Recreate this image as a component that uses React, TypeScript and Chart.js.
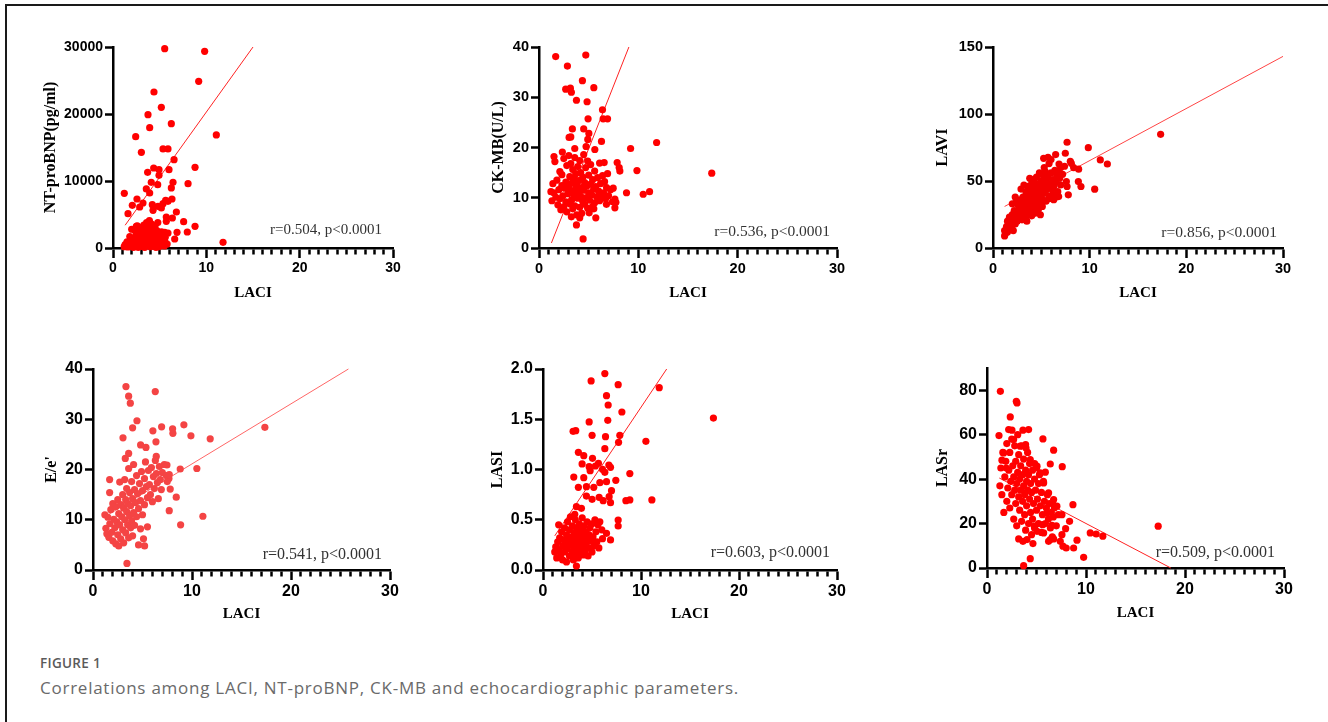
import React, { useEffect, useRef } from "react";
import { Chart, registerables } from "chart.js";

Chart.register(...registerables);

type Pt = [number, number];

// ---------- shared axis data ----------
const xTicks = [0, 10, 20, 30];
const xMinorTicks = [1, 2, 3, 4, 5, 6, 7, 8, 9, 11, 12, 13, 14, 15, 16, 17, 18, 19, 21, 22, 23, 24, 25, 26, 27, 28, 29];
const xTitle = "LACI";

// ---------- Panel A: NT-proBNP ----------
const ntTicks = [0, 10000, 20000, 30000];
const ntStat = "r=0.504, p<0.0001";
const ntFit: Pt[] = [[1.3, 3400], [15.0, 30000]];
const ntPoints: Pt[] = [
  [5.54, 29750], [9.82, 29350], [9.18, 24880], [4.39, 23280], [5.18, 21000], [3.75, 19900], [6.25, 18560], [3.93, 17960],
  [2.43, 16620], [11.07, 16870], [3.04, 14280], [5.36, 14780], [5.89, 14780], [6.54, 13180], [8.79, 12040], [4.36, 11940],
  [3.71, 11290], [4.93, 11690], [6.0, 11690], [4.93, 10850], [6.43, 9800], [4.1, 9800], [4.79, 9450], [8.04, 9600],
  [3.57, 8810], [6.25, 8960], [1.21, 8160], [2.57, 7310], [3.93, 8210], [6.32, 7310], [5.64, 7110], [3.21, 6720],
  [2.07, 6370], [2.86, 6120], [4.21, 6470], [4.82, 6220], [5.36, 6620], [5.18, 5970], [4.29, 5620], [5.89, 6970],
  [6.79, 5370], [1.61, 5120], [5.71, 4630], [6.36, 4480], [5.71, 3980], [7.57, 3930], [2.5, 3230], [8.79, 3230],
  [2.32, 2640], [5.54, 2340], [5.89, 2240], [6.86, 2340], [7.96, 2390], [6.61, 1340], [11.79, 850],
  [1.2, 200], [1.3, 500], [1.5, 900], [1.6, 150], [1.8, 1700], [1.9, 400], [2.0, 1000], [2.1, 200], [2.2, 650],
  [2.3, 1400], [2.4, 300], [2.5, 2000], [2.6, 800], [2.7, 100], [2.7, 1200], [2.8, 2600], [2.9, 500], [3.0, 1700],
  [3.0, 900], [3.1, 3100], [3.1, 250], [3.2, 2200], [3.2, 1300], [3.3, 600], [3.3, 3400], [3.4, 1800], [3.4, 100],
  [3.5, 2700], [3.5, 1000], [3.6, 3800], [3.6, 400], [3.7, 2100], [3.7, 1400], [3.8, 700], [3.8, 3200], [3.9, 4100],
  [3.9, 1800], [4.0, 200], [4.0, 2500], [4.1, 1100], [4.1, 3600], [4.2, 600], [4.2, 1900], [4.3, 2900], [4.3, 1300],
  [4.4, 300], [4.4, 2300], [4.5, 800], [4.5, 3300], [4.6, 1600], [4.7, 500], [4.7, 2600], [4.8, 1200], [4.9, 200],
  [4.9, 2000], [5.0, 900], [5.1, 1500], [5.1, 400], [5.2, 2400], [5.3, 700], [5.4, 1100], [5.5, 300], [5.6, 1600],
  [5.8, 600], [2.0, 2800], [2.6, 3300], [4.8, 3800], [2.2, 100], [2.9, 1500], [3.3, 200], [3.6, 1200], [4.0, 800],
  [4.4, 1500], [4.6, 100], [5.0, 350], [5.3, 1800], [5.6, 800], [3.0, 2300], [3.8, 2700], [4.2, 3000],
];

// ---------- Panel B: CK-MB ----------
const ckTicks = [0, 10, 20, 30, 40];
const ckStat = "r=0.536, p<0.0001";
const ckFit: Pt[] = [[1.25, 1.0], [9.05, 40]];
const ckPoints: Pt[] = [
  [1.68, 38.1], [4.71, 38.4], [2.86, 36.2], [4.37, 33.3], [2.69, 31.6], [3.16, 31.8], [3.26, 31.0], [5.52, 31.9],
  [3.77, 29.4], [4.84, 29.1], [6.39, 27.5], [6.46, 25.7], [6.9, 25.7], [4.94, 25.7], [3.36, 23.7], [4.5, 23.7],
  [5.02, 22.8], [3.03, 22.0], [3.2, 22.1], [4.91, 21.6], [6.29, 21.2], [11.84, 21.0], [4.74, 20.2], [9.22, 19.8],
  [3.6, 19.8], [5.62, 19.6], [2.35, 19.1], [1.51, 18.2], [7.87, 17.0], [6.56, 17.0], [8.07, 16.0], [8.14, 15.3],
  [9.86, 15.4], [17.39, 14.9], [7.47, 11.9], [8.81, 11.0], [10.49, 10.7], [11.13, 11.2], [7.64, 9.75], [7.74, 9.1],
  [7.64, 8.0], [6.79, 8.7], [5.72, 6.0], [5.52, 7.8], [5.05, 7.0], [3.77, 4.6], [4.44, 1.8], [3.26, 6.2], [4.1, 6.0],
  [1.2, 11.2], [1.3, 9.4], [1.4, 12.8], [1.5, 11.0], [1.6, 17.2], [1.7, 10.1], [1.8, 13.5], [1.9, 8.6], [2.0, 11.6],
  [2.1, 15.2], [2.1, 9.8], [2.2, 7.6], [2.3, 12.4], [2.3, 14.6], [2.4, 10.4], [2.5, 8.2], [2.5, 17.8], [2.6, 11.9],
  [2.7, 13.1], [2.7, 9.2], [2.8, 16.4], [2.8, 7.2], [2.9, 10.8], [3.0, 12.2], [3.0, 18.4], [3.1, 8.8], [3.1, 14.2],
  [3.2, 11.4], [3.2, 16.8], [3.3, 9.6], [3.3, 12.9], [3.4, 7.8], [3.4, 15.6], [3.5, 10.6], [3.5, 13.8], [3.6, 18.0],
  [3.6, 8.4], [3.7, 11.8], [3.7, 14.8], [3.8, 6.6], [3.8, 12.6], [3.9, 9.9], [3.9, 16.2], [4.0, 11.1], [4.0, 13.4],
  [4.1, 8.1], [4.1, 17.4], [4.2, 10.3], [4.2, 15.0], [4.3, 12.0], [4.3, 6.9], [4.4, 9.3], [4.4, 14.1], [4.5, 11.5],
  [4.5, 18.6], [4.6, 8.7], [4.6, 13.0], [4.7, 16.0], [4.7, 10.0], [4.8, 12.3], [4.9, 7.9], [4.9, 17.3], [5.0, 11.0],
  [5.0, 14.5], [5.1, 9.5], [5.2, 12.7], [5.2, 16.6], [5.3, 10.6], [5.4, 13.6], [5.4, 8.3], [5.5, 11.7], [5.6, 15.3],
  [5.6, 9.0], [5.7, 12.2], [5.8, 10.2], [5.9, 14.0], [6.0, 11.3], [6.1, 16.9], [6.1, 9.4], [6.2, 12.8], [6.3, 10.5],
  [6.4, 14.4], [6.5, 11.0], [6.6, 13.2], [6.7, 9.8], [6.8, 12.0], [6.9, 14.8], [7.0, 10.4], [7.2, 11.6], [7.4, 9.2],
];

// ---------- Panel C: LAVI ----------
const laviTicks = [0, 50, 100, 150];
const laviStat = "r=0.856, p<0.0001";
const laviFit: Pt[] = [[1.2, 31], [30, 143]];
const laviPoints: Pt[] = [
  [17.34, 84.8], [7.66, 78.9], [9.86, 74.9], [6.48, 69.7], [7.48, 70.7], [5.24, 66.9], [5.69, 67.7], [11.1, 65.7],
  [11.83, 62.7], [8.0, 64.7], [8.1, 63.2], [6.83, 62.7], [8.34, 60.0], [8.86, 58.8], [8.83, 49.6], [9.1, 45.9],
  [10.52, 43.9], [7.79, 39.7], [7.59, 49.6], [7.66, 45.9], [6.79, 38.4], [6.28, 36.0], [4.9, 24.8],
  [1.2, 9], [1.2, 13], [1.3, 11], [1.4, 16], [1.5, 12], [1.5, 20], [1.6, 14], [1.7, 18], [1.7, 23], [1.8, 15],
  [1.9, 20], [2.0, 17], [2.0, 25], [2.1, 13], [2.2, 22], [2.2, 28], [2.3, 18], [2.4, 24], [2.4, 34], [2.5, 20],
  [2.6, 27], [2.6, 32], [2.7, 23], [2.8, 30], [2.8, 36], [2.9, 26], [3.0, 33], [3.0, 21], [3.1, 29], [3.1, 38],
  [3.2, 25], [3.3, 35], [3.3, 31], [3.4, 28], [3.4, 42], [3.5, 33], [3.5, 24], [3.6, 37], [3.6, 46], [3.7, 30],
  [3.7, 40], [3.8, 35], [3.8, 27], [3.9, 43], [3.9, 32], [4.0, 38], [4.0, 48], [4.1, 34], [4.1, 29], [4.2, 41],
  [4.2, 51], [4.3, 36], [4.4, 45], [4.4, 31], [4.5, 39], [4.5, 53], [4.6, 43], [4.6, 35], [4.7, 48], [4.8, 40],
  [4.8, 56], [4.9, 45], [4.9, 33], [5.0, 50], [5.0, 38], [5.1, 43], [5.2, 54], [5.2, 36], [5.3, 47], [5.4, 41],
  [5.4, 57], [5.5, 50], [5.6, 44], [5.7, 53], [5.8, 39], [5.9, 48], [6.0, 56], [6.1, 44], [6.2, 51], [6.3, 46],
  [6.4, 58], [6.5, 49], [6.6, 54], [6.7, 42], [6.8, 57], [6.9, 52], [7.0, 60], [7.0, 47], [7.2, 55], [7.4, 61],
  [2.0, 33], [2.3, 38], [2.9, 44], [3.2, 47], [3.5, 20], [4.0, 24], [4.3, 26], [4.7, 29], [5.1, 31], [5.5, 35],
  [5.9, 37], [6.2, 40], [6.5, 38], [3.8, 52], [5.3, 60], [6.0, 66], [5.8, 63],
];

// ---------- Panel D: E/e' ----------
const eeTicks = [0, 10, 20, 30, 40];
const eeStat = "r=0.541, p<0.0001";
const eeFit: Pt[] = [[1.2, 10.6], [25.8, 40]];
const eePoints: Pt[] = [
  [3.33, 36.5], [3.6, 34.6], [3.77, 33.2], [6.29, 35.5], [4.44, 29.7], [4.0, 28.3], [6.05, 27.7], [6.93, 28.5],
  [8.04, 28.1], [8.07, 27.2], [9.18, 28.9], [9.89, 26.7], [11.84, 26.1], [17.36, 28.4], [3.03, 26.3], [6.36, 25.5],
  [4.81, 24.9], [5.35, 24.4], [3.26, 22.2], [3.6, 23.2], [6.39, 22.6], [10.49, 20.2], [8.81, 20.1], [7.47, 20.9],
  [1.68, 18.0], [7.67, 18.2], [7.8, 16.1], [1.68, 15.4], [8.41, 14.5], [7.7, 11.8], [11.1, 10.7], [8.85, 9.0],
  [3.43, 1.3], [5.21, 4.8],
  [1.2, 11.0], [1.3, 8.3], [1.4, 7.2], [1.5, 10.5], [1.6, 6.5], [1.7, 9.2], [1.8, 12.0], [1.9, 7.5], [2.0, 13.2],
  [2.0, 5.8], [2.1, 10.1], [2.2, 8.4], [2.3, 12.6], [2.3, 5.2], [2.4, 9.6], [2.5, 14.0], [2.5, 7.0], [2.6, 11.2],
  [2.6, 4.8], [2.7, 17.5], [2.7, 9.0], [2.8, 13.0], [2.8, 6.2], [2.9, 10.6], [3.0, 15.0], [3.0, 8.0], [3.1, 12.3],
  [3.1, 5.4], [3.2, 18.0], [3.2, 10.0], [3.3, 14.0], [3.3, 7.4], [3.4, 11.6], [3.4, 16.2], [3.5, 9.0], [3.5, 13.2],
  [3.6, 6.4], [3.6, 20.2], [3.7, 10.8], [3.7, 15.4], [3.8, 8.4], [3.8, 12.8], [3.9, 17.6], [3.9, 9.8], [4.0, 14.2],
  [4.0, 6.8], [4.1, 11.4], [4.1, 21.0], [4.2, 16.0], [4.2, 8.9], [4.3, 13.4], [4.4, 18.8], [4.4, 10.6], [4.5, 15.2],
  [4.6, 12.2], [4.6, 5.0], [4.7, 17.2], [4.8, 13.8], [4.8, 8.2], [4.9, 19.6], [5.0, 15.8], [5.0, 11.0], [5.1, 6.2],
  [5.2, 18.2], [5.2, 13.0], [5.3, 21.5], [5.4, 16.6], [5.5, 14.4], [5.5, 8.6], [5.6, 19.8], [5.7, 17.0], [5.8, 15.0],
  [5.9, 20.4], [6.0, 13.6], [6.1, 18.6], [6.2, 16.2], [6.3, 21.8], [6.4, 19.2], [6.5, 17.4], [6.6, 14.2], [6.7, 20.6],
  [6.8, 18.0], [6.9, 16.0], [7.0, 19.4], [7.2, 21.0], [7.4, 18.8], [7.5, 17.6], [7.7, 19.0],
];

// ---------- Panel E: LASI ----------
const lasiTicks = [0, 0.5, 1.0, 1.5, 2.0];
const lasiStat = "r=0.603, p<0.0001";
const lasiFit: Pt[] = [[1.2, 0.34], [12.62, 2.0]];
const lasiPoints: Pt[] = [
  [6.31, 1.954], [4.91, 1.881], [7.67, 1.844], [11.86, 1.814], [6.48, 1.735], [6.65, 1.642], [8.05, 1.572], [17.39, 1.512],
  [4.71, 1.473], [6.61, 1.489], [3.07, 1.38], [3.34, 1.386], [5.01, 1.34], [6.38, 1.327], [7.84, 1.34], [10.5, 1.28],
  [7.71, 1.27], [6.31, 1.207], [3.61, 1.171], [4.16, 1.138], [5.05, 1.111], [5.66, 1.061], [5.35, 1.035], [6.72, 1.045],
  [6.89, 1.022], [4.71, 1.028], [3.99, 1.055], [6.07, 1.002], [4.81, 0.988], [8.86, 0.959], [3.14, 0.925], [4.16, 0.919],
  [6.31, 0.972], [7.43, 0.892], [6.48, 0.879], [5.8, 0.869], [3.61, 0.823], [4.43, 0.829], [5.18, 0.823], [6.99, 0.789],
  [4.43, 0.736], [5.01, 0.703], [5.73, 0.723], [6.14, 0.69], [6.75, 0.73], [6.89, 0.67], [8.46, 0.69], [8.86, 0.697],
  [11.11, 0.697], [3.41, 0.63], [3.92, 0.614], [3.24, 0.554], [7.67, 0.497], [7.67, 0.438], [6.48, 0.365], [6.89, 0.299],
  [6.07, 0.312], [3.41, 0.04],
  [1.2, 0.18], [1.3, 0.23], [1.4, 0.12], [1.5, 0.28], [1.6, 0.2], [1.6, 0.45], [1.7, 0.32], [1.8, 0.15], [1.9, 0.38],
  [2.0, 0.24], [2.0, 0.1], [2.1, 0.3], [2.2, 0.42], [2.2, 0.18], [2.3, 0.26], [2.4, 0.35], [2.4, 0.08], [2.5, 0.21],
  [2.5, 0.48], [2.6, 0.3], [2.7, 0.14], [2.7, 0.4], [2.8, 0.25], [2.8, 0.53], [2.9, 0.33], [3.0, 0.18], [3.0, 0.44],
  [3.1, 0.28], [3.1, 0.1], [3.2, 0.37], [3.2, 0.22], [3.3, 0.5], [3.3, 0.15], [3.4, 0.31], [3.4, 0.42], [3.5, 0.2],
  [3.5, 0.27], [3.6, 0.36], [3.6, 0.12], [3.7, 0.46], [3.7, 0.24], [3.8, 0.32], [3.8, 0.17], [3.9, 0.4], [3.9, 0.26],
  [4.0, 0.21], [4.0, 0.52], [4.1, 0.34], [4.1, 0.15], [4.2, 0.28], [4.2, 0.44], [4.3, 0.19], [4.4, 0.38], [4.4, 0.25],
  [4.5, 0.31], [4.5, 0.48], [4.6, 0.14], [4.7, 0.35], [4.7, 0.22], [4.8, 0.42], [4.9, 0.29], [5.0, 0.18], [5.0, 0.46],
  [5.1, 0.33], [5.2, 0.24], [5.3, 0.5], [5.4, 0.38], [5.5, 0.28], [5.6, 0.45], [5.7, 0.22], [5.8, 0.48], [6.0, 0.4],
];

// ---------- Panel F: LASr ----------
const lasrTicks = [0, 20, 40, 60, 80];
const lasrStat = "r=0.509, p<0.0001";
const lasrFit: Pt[] = [[1.24, 40.5], [18.57, 0]];
const lasrPoints: Pt[] = [
  [1.35, 79.5], [2.96, 75.0], [3.03, 74.3], [2.35, 68.0], [1.21, 59.6], [2.19, 62.3], [2.52, 62.0], [3.63, 62.0],
  [4.2, 62.3], [5.65, 58.1], [6.73, 53.0], [6.39, 46.8], [7.6, 45.6], [4.81, 47.0], [8.68, 28.5], [17.29, 18.8],
  [8.34, 21.0], [7.94, 17.7], [10.43, 15.8], [11.03, 15.3], [11.7, 14.3], [7.57, 15.0], [9.09, 12.5], [7.67, 9.8],
  [8.0, 9.0], [8.75, 9.0], [9.76, 4.8], [4.37, 4.2], [3.7, 1.05], [3.2, 13.1], [3.63, 12.0], [4.04, 12.8], [4.64, 11.0],
  [6.22, 12.0], [6.39, 12.8], [6.73, 13.1],
  [1.68, 51.8], [1.51, 48.5], [1.95, 45.0], [2.69, 57.8], [3.36, 54.8], [3.9, 55.5], [3.94, 54.0], [4.37, 48.8],
  [5.05, 45.8], [5.38, 42.8], [5.89, 43.1], [5.72, 38.3], [6.22, 33.8], [6.73, 30.8], [7.06, 27.8], [7.57, 24.0],
  [6.63, 29.0], [6.05, 24.8], [5.72, 15.8], [5.05, 16.5], [4.78, 18.8], [5.62, 19.5], [6.56, 19.2],
  [1.3, 37], [1.4, 45], [1.5, 33], [1.6, 52], [1.7, 25], [1.8, 41], [1.9, 48], [2.0, 30], [2.0, 56], [2.1, 36],
  [2.2, 44], [2.3, 27], [2.3, 52], [2.4, 39], [2.5, 33], [2.5, 58], [2.6, 46], [2.7, 22], [2.7, 41], [2.8, 35],
  [2.8, 55], [2.9, 29], [2.9, 48], [3.0, 19], [3.0, 38], [3.1, 43], [3.1, 60], [3.2, 32], [3.2, 51], [3.3, 26],
  [3.3, 40], [3.4, 46], [3.4, 35], [3.5, 21], [3.5, 55], [3.6, 30], [3.6, 42], [3.7, 37], [3.7, 49], [3.8, 24],
  [3.8, 33], [3.9, 44], [3.9, 17], [4.0, 39], [4.0, 28], [4.1, 52], [4.1, 35], [4.2, 20], [4.2, 42], [4.3, 31],
  [4.3, 47], [4.4, 25], [4.4, 38], [4.5, 15], [4.5, 34], [4.6, 44], [4.6, 22], [4.7, 29], [4.8, 40], [4.8, 18],
  [4.9, 35], [5.0, 26], [5.0, 45], [5.1, 31], [5.2, 20], [5.2, 38], [5.3, 42], [5.4, 28], [5.5, 34], [5.5, 16],
  [5.6, 24], [5.7, 39], [5.8, 30], [5.9, 20], [6.0, 27], [6.1, 33], [6.2, 22], [6.3, 29], [6.4, 18], [6.5, 25],
  [6.6, 14], [6.7, 23], [6.8, 27], [7.0, 19], [7.2, 24], [7.4, 12],
];

// ---------- layout / style config ----------
type Panel = {
  yTitle: string; points: Pt[]; fit: Pt[]; yTicks: number[]; yMax: number; decimals: number; stat: string;
  color: string; lineColor: string;
  area: { l: number; t: number; r: number; b: number };
  titleGap: number; xTitleGap: number; statRight: number; statUp: number; tickSize: number; statSize: number;
};

const panels: Panel[] = [
  { yTitle: "NT-proBNP(pg/ml)", points: ntPoints, fit: ntFit, yTicks: ntTicks, yMax: 30000, decimals: 0, stat: ntStat,
    color: "#ff0000", lineColor: "#f22", area: { l: 113, t: 47, r: 393, b: 248 }, titleGap: 62, xTitleGap: 45, statRight: 11, statUp: 18, tickSize: 14, statSize: 15 },
  { yTitle: "CK-MB(U/L)", points: ckPoints, fit: ckFit, yTicks: ckTicks, yMax: 40, decimals: 0, stat: ckStat,
    color: "#ff0000", lineColor: "#f22", area: { l: 539, t: 47, r: 837, b: 248 }, titleGap: 40, xTitleGap: 45, statRight: 7, statUp: 16, tickSize: 14.5, statSize: 15.5 },
  { yTitle: "LAVI", points: laviPoints, fit: laviFit, yTicks: laviTicks, yMax: 150, decimals: 0, stat: laviStat,
    color: "#f20000", lineColor: "#f44", area: { l: 993, t: 47, r: 1283, b: 248 }, titleGap: 50, xTitleGap: 45, statRight: 6, statUp: 15, tickSize: 14.5, statSize: 15.5 },
  { yTitle: "E/e'", points: eePoints, fit: eeFit, yTicks: eeTicks, yMax: 40, decimals: 0, stat: eeStat,
    color: "#f44444", lineColor: "#f66", area: { l: 93, t: 369, r: 390, b: 570 }, titleGap: 41, xTitleGap: 44, statRight: 8, statUp: 15, tickSize: 16, statSize: 16 },
  { yTitle: "LASI", points: lasiPoints, fit: lasiFit, yTicks: lasiTicks, yMax: 2.0, decimals: 1, stat: lasiStat,
    color: "#ff0000", lineColor: "#f22", area: { l: 543, t: 369, r: 837, b: 570 }, titleGap: 45, xTitleGap: 44, statRight: 7, statUp: 17, tickSize: 16, statSize: 16 },
  { yTitle: "LASr", points: lasrPoints, fit: lasrFit, yTicks: lasrTicks, yMax: 90, decimals: 0, stat: lasrStat,
    color: "#ff0000", lineColor: "#f22", area: { l: 987, t: 368, r: 1284, b: 568 }, titleGap: 44, xTitleGap: 45, statRight: 9, statUp: 15, tickSize: 16, statSize: 16 },
];

const PAD_TOP = 12;
const PAD_RIGHT = 14;
const TICK_FONT = '"Liberation Sans", Arial, sans-serif';
const SERIF = '"Liberation Serif", "Times New Roman", serif';
const allXTicks = [...xTicks, ...xMinorTicks].sort((a, b) => a - b);
const isMajorX = (v: number) => xTicks.indexOf(v) >= 0;

function ScatterPanel({ p }: { p: Panel }) {
  const ref = useRef<HTMLCanvasElement | null>(null);
  const yw = Math.round(p.titleGap + 9.6);
  const xh = p.xTitleGap + 9;
  const left = p.area.l - yw;
  const top = p.area.t - PAD_TOP;
  const width = p.area.r - p.area.l + yw + PAD_RIGHT;
  const height = p.area.b - p.area.t + PAD_TOP + xh;

  useEffect(() => {
    if (!ref.current) return;
    const statText = {
      id: "statText",
      afterDraw(chart: any) {
        const a = chart.chartArea;
        const ctx = chart.ctx;
        ctx.save();
        ctx.font = `${p.statSize}px ${SERIF}`;
        ctx.fillStyle = "#333";
        ctx.textAlign = "right";
        ctx.textBaseline = "middle";
        ctx.fillText(p.stat, a.right - p.statRight, a.bottom - p.statUp);
        ctx.restore();
      },
    };
    const tickFont = { family: TICK_FONT, size: p.tickSize, weight: "bold" };
    const chart = new Chart(ref.current, {
      type: "scatter",
      data: {
        datasets: [
          {
            type: "line",
            data: p.fit.map(([x, y]) => ({ x, y })),
            borderColor: p.lineColor,
            borderWidth: 1,
            pointRadius: 0,
            fill: false,
            showLine: true,
            order: 2,
            clip: false,
          } as any,
          {
            data: p.points.map(([x, y]) => ({ x, y })),
            backgroundColor: p.color,
            borderWidth: 0,
            pointRadius: 3.6,
            pointHoverRadius: 3.6,
            order: 1,
            clip: false,
          } as any,
        ],
      },
      options: {
        animation: false,
        responsive: false,
        events: [],
        layout: { padding: { top: PAD_TOP, right: PAD_RIGHT, left: 0, bottom: 0 } },
        plugins: { legend: { display: false }, tooltip: { enabled: false } },
        scales: {
          x: {
            type: "linear",
            min: 0,
            max: 30,
            afterBuildTicks: (s: any) => { s.ticks = allXTicks.map((v) => ({ value: v })); },
            afterFit: (s: any) => { s.height = xh; },
            ticks: {
              font: tickFont,
              color: "#000",
              padding: 2,
              maxRotation: 0,
              minRotation: 0,
              autoSkip: false,
              callback: (v: any) => (isMajorX(Number(v)) ? String(v) : ""),
            },
            grid: {
              display: true,
              drawOnChartArea: false,
              drawTicks: true,
              tickLength: 10,
              tickWidth: 2.5,
              tickColor: "#000",
              tickBorderDash: (ctx: any) => (ctx.tick && !isMajorX(ctx.tick.value) ? [5, 60] : []),
            },
            border: { display: true, color: "#000", width: 2.5 },
            title: { display: true, text: xTitle, font: { family: SERIF, size: 15, weight: "bold" }, color: "#000", padding: 0 },
          },
          y: {
            type: "linear",
            min: 0,
            max: p.yMax,
            afterBuildTicks: (s: any) => { s.ticks = p.yTicks.map((v) => ({ value: v })); },
            afterFit: (s: any) => { s.width = yw; },
            ticks: {
              font: tickFont,
              color: "#000",
              padding: 2,
              autoSkip: false,
              callback: (v: any) => Number(v).toFixed(p.decimals),
            },
            grid: { display: true, drawOnChartArea: false, drawTicks: true, tickLength: 8, tickWidth: 2.5, tickColor: "#000" },
            border: { display: true, color: "#000", width: 2.5 },
            title: { display: true, text: p.yTitle, font: { family: SERIF, size: 16, weight: "bold" }, color: "#000", padding: 0 },
          },
        },
      } as any,
      plugins: [statText],
    });
    return () => chart.destroy();
  }, [p]);

  return (
    <canvas
      ref={ref}
      width={width}
      height={height}
      style={{ position: "absolute", left, top, width, height }}
    />
  );
}

export default function App() {
  return (
    <div style={{ position: "absolute", left: 0, top: 0, width: 1328, height: 722, background: "#fff", overflow: "hidden" }}>
      <div style={{ position: "absolute", left: 5, top: 4, width: 1330, height: 730, borderLeft: "2px solid #1a1a1a", borderTop: "2px solid #1a1a1a" }} />
      {panels.map((p, i) => <ScatterPanel key={i} p={p} />)}
      <div style={{ position: "absolute", left: 40, top: 654, fontFamily: '"Open Sans", sans-serif', fontSize: 13.5, fontWeight: 600, color: "#5a5a5a", letterSpacing: 0.3, lineHeight: "18px" }}>FIGURE 1</div>
      <div style={{ position: "absolute", left: 40, top: 676, fontFamily: '"Open Sans", sans-serif', fontSize: 17, fontWeight: 400, color: "#6a6a6a", letterSpacing: 0.75, lineHeight: "24px", whiteSpace: "nowrap" }}>
        Correlations among LACI, NT-proBNP, CK-MB and echocardiographic parameters.
      </div>
    </div>
  );
}
